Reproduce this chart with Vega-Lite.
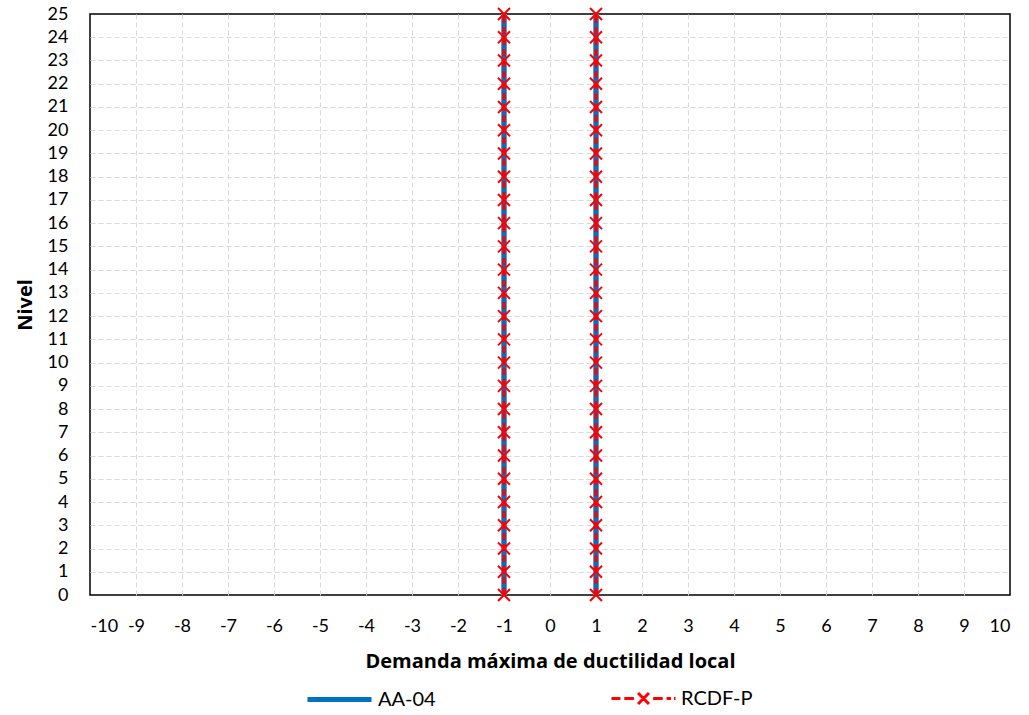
{
  "$schema": "https://vega.github.io/schema/vega-lite/v6.json",
  "autosize": {"type": "none"},
  "padding": {"left": 90, "top": 14, "right": 19, "bottom": 120},
  "width": 920,
  "height": 581,
  "background": "white",
  "config": {
    "font": "Lato",
    "view": {"stroke": "#000000", "strokeWidth": 1.5},
    "axis": {
      "grid": true, "gridDash": [5, 3], "gridWidth": 1,
      "domain": false, "ticks": false,
      "labelFont": "Lato", "labelFontSize": 18, "labelColor": "#000000",
      "titleFont": "Open Sans", "titleFontSize": 20, "titleFontWeight": "bold", "titleColor": "#000000"
    },
    "legend": {"labelFont": "Lato", "labelFontSize": 20, "labelColor": "#000000"}
  },
  "data": {"values": [
    {"serie":"AA-04","mu":-1,"nivel":0},{"serie":"AA-04","mu":-1,"nivel":1},{"serie":"AA-04","mu":-1,"nivel":2},{"serie":"AA-04","mu":-1,"nivel":3},{"serie":"AA-04","mu":-1,"nivel":4},{"serie":"AA-04","mu":-1,"nivel":5},{"serie":"AA-04","mu":-1,"nivel":6},{"serie":"AA-04","mu":-1,"nivel":7},{"serie":"AA-04","mu":-1,"nivel":8},{"serie":"AA-04","mu":-1,"nivel":9},{"serie":"AA-04","mu":-1,"nivel":10},{"serie":"AA-04","mu":-1,"nivel":11},{"serie":"AA-04","mu":-1,"nivel":12},{"serie":"AA-04","mu":-1,"nivel":13},{"serie":"AA-04","mu":-1,"nivel":14},{"serie":"AA-04","mu":-1,"nivel":15},{"serie":"AA-04","mu":-1,"nivel":16},{"serie":"AA-04","mu":-1,"nivel":17},{"serie":"AA-04","mu":-1,"nivel":18},{"serie":"AA-04","mu":-1,"nivel":19},{"serie":"AA-04","mu":-1,"nivel":20},{"serie":"AA-04","mu":-1,"nivel":21},{"serie":"AA-04","mu":-1,"nivel":22},{"serie":"AA-04","mu":-1,"nivel":23},{"serie":"AA-04","mu":-1,"nivel":24},{"serie":"AA-04","mu":-1,"nivel":25},
    {"serie":"AA-04","mu":1,"nivel":0},{"serie":"AA-04","mu":1,"nivel":1},{"serie":"AA-04","mu":1,"nivel":2},{"serie":"AA-04","mu":1,"nivel":3},{"serie":"AA-04","mu":1,"nivel":4},{"serie":"AA-04","mu":1,"nivel":5},{"serie":"AA-04","mu":1,"nivel":6},{"serie":"AA-04","mu":1,"nivel":7},{"serie":"AA-04","mu":1,"nivel":8},{"serie":"AA-04","mu":1,"nivel":9},{"serie":"AA-04","mu":1,"nivel":10},{"serie":"AA-04","mu":1,"nivel":11},{"serie":"AA-04","mu":1,"nivel":12},{"serie":"AA-04","mu":1,"nivel":13},{"serie":"AA-04","mu":1,"nivel":14},{"serie":"AA-04","mu":1,"nivel":15},{"serie":"AA-04","mu":1,"nivel":16},{"serie":"AA-04","mu":1,"nivel":17},{"serie":"AA-04","mu":1,"nivel":18},{"serie":"AA-04","mu":1,"nivel":19},{"serie":"AA-04","mu":1,"nivel":20},{"serie":"AA-04","mu":1,"nivel":21},{"serie":"AA-04","mu":1,"nivel":22},{"serie":"AA-04","mu":1,"nivel":23},{"serie":"AA-04","mu":1,"nivel":24},{"serie":"AA-04","mu":1,"nivel":25},
    {"serie":"RCDF-P","mu":-1,"nivel":0},{"serie":"RCDF-P","mu":-1,"nivel":1},{"serie":"RCDF-P","mu":-1,"nivel":2},{"serie":"RCDF-P","mu":-1,"nivel":3},{"serie":"RCDF-P","mu":-1,"nivel":4},{"serie":"RCDF-P","mu":-1,"nivel":5},{"serie":"RCDF-P","mu":-1,"nivel":6},{"serie":"RCDF-P","mu":-1,"nivel":7},{"serie":"RCDF-P","mu":-1,"nivel":8},{"serie":"RCDF-P","mu":-1,"nivel":9},{"serie":"RCDF-P","mu":-1,"nivel":10},{"serie":"RCDF-P","mu":-1,"nivel":11},{"serie":"RCDF-P","mu":-1,"nivel":12},{"serie":"RCDF-P","mu":-1,"nivel":13},{"serie":"RCDF-P","mu":-1,"nivel":14},{"serie":"RCDF-P","mu":-1,"nivel":15},{"serie":"RCDF-P","mu":-1,"nivel":16},{"serie":"RCDF-P","mu":-1,"nivel":17},{"serie":"RCDF-P","mu":-1,"nivel":18},{"serie":"RCDF-P","mu":-1,"nivel":19},{"serie":"RCDF-P","mu":-1,"nivel":20},{"serie":"RCDF-P","mu":-1,"nivel":21},{"serie":"RCDF-P","mu":-1,"nivel":22},{"serie":"RCDF-P","mu":-1,"nivel":23},{"serie":"RCDF-P","mu":-1,"nivel":24},{"serie":"RCDF-P","mu":-1,"nivel":25},
    {"serie":"RCDF-P","mu":1,"nivel":0},{"serie":"RCDF-P","mu":1,"nivel":1},{"serie":"RCDF-P","mu":1,"nivel":2},{"serie":"RCDF-P","mu":1,"nivel":3},{"serie":"RCDF-P","mu":1,"nivel":4},{"serie":"RCDF-P","mu":1,"nivel":5},{"serie":"RCDF-P","mu":1,"nivel":6},{"serie":"RCDF-P","mu":1,"nivel":7},{"serie":"RCDF-P","mu":1,"nivel":8},{"serie":"RCDF-P","mu":1,"nivel":9},{"serie":"RCDF-P","mu":1,"nivel":10},{"serie":"RCDF-P","mu":1,"nivel":11},{"serie":"RCDF-P","mu":1,"nivel":12},{"serie":"RCDF-P","mu":1,"nivel":13},{"serie":"RCDF-P","mu":1,"nivel":14},{"serie":"RCDF-P","mu":1,"nivel":15},{"serie":"RCDF-P","mu":1,"nivel":16},{"serie":"RCDF-P","mu":1,"nivel":17},{"serie":"RCDF-P","mu":1,"nivel":18},{"serie":"RCDF-P","mu":1,"nivel":19},{"serie":"RCDF-P","mu":1,"nivel":20},{"serie":"RCDF-P","mu":1,"nivel":21},{"serie":"RCDF-P","mu":1,"nivel":22},{"serie":"RCDF-P","mu":1,"nivel":23},{"serie":"RCDF-P","mu":1,"nivel":24},{"serie":"RCDF-P","mu":1,"nivel":25}
  ]},
  "encoding": {
    "x": {"field": "mu", "type": "quantitative",
      "scale": {"domain": [-10, 10], "nice": false, "zero": false},
      "axis": {"values": [-10,-9,-8,-7,-6,-5,-4,-3,-2,-1,0,1,2,3,4,5,6,7,8,9,10],
        "labelExpr": "datum.value < 0 ? '-' + abs(datum.value) : '' + datum.value",
        "gridColor": {"condition": {"test": "abs(datum.value) === 10", "value": "transparent"}, "value": "#D9D9D9"},
        "labelPadding": 22, "titlePadding": 16, "title": "Demanda máxima de ductilidad local"}},
    "y": {"field": "nivel", "type": "quantitative",
      "scale": {"domain": [0, 25], "nice": false},
      "axis": {"values": [0,1,2,3,4,5,6,7,8,9,10,11,12,13,14,15,16,17,18,19,20,21,22,23,24,25], "format": "d",
        "gridColor": {"condition": {"test": "datum.value === 0 || datum.value === 25", "value": "transparent"}, "value": "#D9D9D9"},
        "labelPadding": 22, "titlePadding": 12, "title": "Nivel"}},
    "detail": {"field": "mu", "type": "nominal"},
    "order": {"field": "nivel", "type": "quantitative"}
  },
  "layer": [
    {
      "transform": [{"filter": "datum.serie === 'AA-04'"}],
      "mark": {"type": "line", "stroke": "#5B9BD5", "strokeWidth": 6}
    },
    {
      "transform": [{"filter": "datum.serie === 'AA-04'"}],
      "mark": {"type": "line", "strokeWidth": 4},
      "encoding": {
        "color": {"field": "serie", "type": "nominal",
          "scale": {"domain": ["AA-04"], "range": ["#0070C0"]},
          "legend": {"title": null, "orient": "none", "legendX": 215, "legendY": 651,
            "symbolType": "M-1,0L1,0", "symbolSize": 4096, "symbolStrokeWidth": 5,
            "labelOffset": 4}}
      }
    },
    {
      "transform": [{"filter": "datum.serie === 'RCDF-P'"}],
      "mark": {"type": "line", "strokeWidth": 3, "strokeDash": [7, 4]},
      "encoding": {
        "color": {"field": "serie", "type": "nominal",
          "scale": {"domain": ["RCDF-P"], "range": ["#FF0000"]},
          "legend": {"title": null, "orient": "none", "legendX": 520, "legendY": 651,
            "symbolType": "M-1,0L-0.72,0M-0.6,0L-0.3,0M-0.17,-0.17L0.17,0.17M-0.17,0.17L0.17,-0.17M0.3,0L0.6,0M0.72,0L0.86,0M0.95,0L1,0",
            "symbolSize": 4096, "symbolStrokeWidth": 3, "labelOffset": 4}}
      }
    },
    {
      "transform": [{"filter": "datum.serie === 'RCDF-P'"}],
      "mark": {"type": "point", "shape": "M-1,-1L1,1M-1,1L1,-1", "size": 144, "filled": false,
        "stroke": "#FF0000", "strokeWidth": 2, "opacity": 1}
    }
  ],
  "resolve": {"scale": {"color": "independent"}, "legend": {"color": "independent"}}
}
